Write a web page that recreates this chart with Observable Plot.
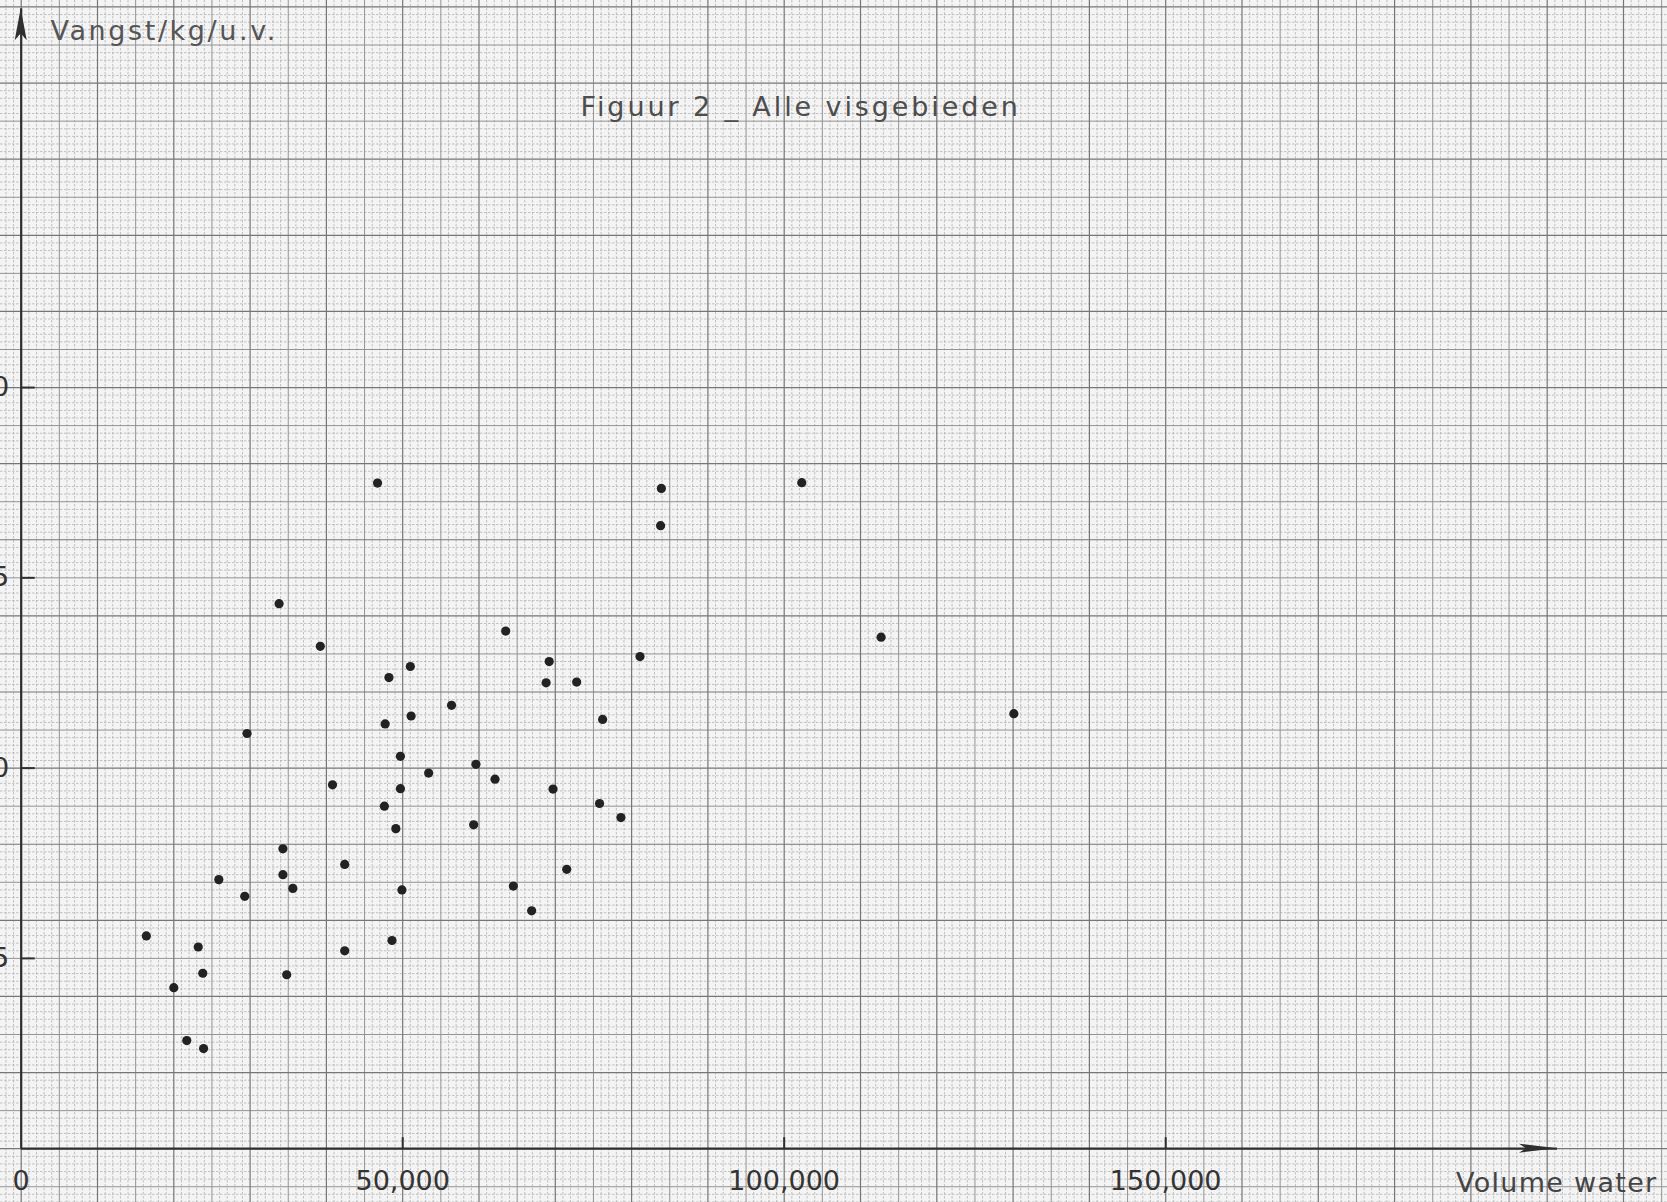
<!DOCTYPE html>
<html>
<head>
<meta charset="utf-8">
<script src="https://cdn.jsdelivr.net/npm/d3@7"></script>
<script src="https://cdn.jsdelivr.net/npm/@observablehq/plot@0.6"></script>
<style>
  html, body { margin: 0; padding: 0; background: #f4f4f4; }
  #chart svg { display: block; }
</style>
</head>
<body>
<div id="chart"></div>
<script>
// ---- data ----
const volume = [16400, 20000, 21700, 23900, 23200, 23800, 25900, 29300, 29600, 33800,
  34300, 34300, 34800, 35600, 39200, 40800, 42400, 42400, 46700, 47600,
  47700, 48200, 48600, 49100, 49700, 49700, 49900, 51000, 51100, 53400,
  56400, 59300, 59600, 62100, 63500, 64500, 66900, 68800, 69200, 69700,
  71500, 72800, 75800, 76200, 78600, 81100, 83900, 83800, 102300, 112700, 130100];
const vangst = [5.59, 4.23, 2.84, 2.63, 5.30, 4.61, 7.07, 6.63, 10.91, 14.32,
  7.88, 7.20, 4.57, 6.84, 13.20, 9.56, 7.47, 5.20, 17.49, 9.00,
  11.16, 12.38, 5.47, 8.41, 10.31, 9.46, 6.80, 12.67, 11.37, 9.87,
  11.65, 8.51, 10.10, 9.71, 13.60, 6.90, 6.25, 12.24, 12.80, 9.45,
  7.34, 12.26, 9.07, 11.28, 8.70, 12.93, 17.35, 16.37, 17.50, 13.44, 11.43];

const xTickValues = [0, 50000, 100000, 150000];
const xTickLabels = ["0", "50,000", "100,000", "150,000"];
const yTickValues = [5, 10, 15, 20];
const yTickLabels = ["5", "10", "15", "20"];

const titleText = "Figuur 2 _ Alle visgebieden";
const yAxisLabel = "Vangst/kg/u.v.";
const xAxisLabel = "Volume water";

// axis extents (data units) and the visible domain of the graph paper
const xDomain = [-2713, 215767];
const yDomain = [-1.414, 30.17];
const xAxisEnd = 201350;
const yAxisEnd = 29.95;

const points = volume.map((v, i) => ({volume: v, vangst: vangst[i]}));

// millimetre paper: 1 mm = 1000 in x, 0.2 in y
const xi = d3.range(-2, 216);
const yi = d3.range(-7, 151);
const gxLight = xi.filter(i => i % 5 !== 0).map(i => i * 1000);
const gxMed = xi.filter(i => i % 5 === 0 && i % 10 !== 0).map(i => i * 1000);
const gxHeavy = xi.filter(i => i % 10 === 0).map(i => i * 1000);
const gyLight = yi.filter(i => i % 5 !== 0).map(i => i * 0.2);
const gyMed = yi.filter(i => i % 5 === 0 && i % 10 !== 0).map(i => i * 0.2);
const gyHeavy = yi.filter(i => i % 10 === 0).map(i => i * 0.2);

const W = 1667, H = 1202;
const pxPerX = W / (xDomain[1] - xDomain[0]);
const pxPerY = H / (yDomain[1] - yDomain[0]);

const font = "'DejaVu Sans', 'Open Sans', sans-serif";
const ink = "#2e2e2e";

function arrowheads(index, scales) {
  const g = d3.create("svg:g").attr("fill", ink);
  const x0 = scales.x(0), y0 = scales.y(0);
  const xe = scales.x(xAxisEnd), yt = scales.y(yAxisEnd);
  g.append("path").attr("d", `M${xe},${y0} L${xe - 38},${y0 - 4.5} L${xe - 31},${y0} L${xe - 38},${y0 + 4.5}Z`);
  g.append("path").attr("d", `M${x0},${yt} L${x0 - 6},${yt + 32} L${x0},${yt + 25} L${x0 + 6},${yt + 32}Z`);
  return g.node();
}

const chart = Plot.plot({
  width: W,
  height: H,
  margin: 0,
  style: {background: "#f4f4f4", fontFamily: font},
  x: {domain: xDomain, axis: null},
  y: {domain: yDomain, axis: null},
  marks: [
    // graph paper
    Plot.ruleX(gxLight, {stroke: "#ababab", strokeWidth: 1, strokeDasharray: "2.5,1.5", strokeOpacity: 0.7}),
    Plot.ruleY(gyLight, {stroke: "#ababab", strokeWidth: 1, strokeDasharray: "2.5,1.5", strokeOpacity: 0.7}),
    Plot.ruleX(gxMed, {stroke: "#939393", strokeWidth: 1}),
    Plot.ruleY(gyMed, {stroke: "#939393", strokeWidth: 1}),
    Plot.ruleX(gxHeavy, {stroke: "#767676", strokeWidth: 1.2}),
    Plot.ruleY(gyHeavy, {stroke: "#767676", strokeWidth: 1.2}),
    // axes
    Plot.ruleY([0], {x1: 0, x2: xAxisEnd, stroke: ink, strokeWidth: 2.2}),
    Plot.ruleX([0], {y1: 0, y2: yAxisEnd, stroke: ink, strokeWidth: 2.2}),
    arrowheads,
    Plot.ruleX(xTickValues.slice(1), {y1: 0, y2: 11 / pxPerY, stroke: ink, strokeWidth: 2}),
    Plot.ruleY(yTickValues, {x1: 0, x2: 14 / pxPerX, stroke: ink, strokeWidth: 2}),
    Plot.text(xTickValues, {x: d => d, y: 0, text: (d, i) => xTickLabels[i], dy: 33,
      fontSize: 27, fill: "#333"}),
    Plot.text(yTickValues, {x: 0, y: d => d, text: (d, i) => yTickLabels[i], dx: -12,
      textAnchor: "end", fontSize: 27, fill: "#333"}),
    // labels
    Plot.text([yAxisLabel], {frameAnchor: "top-left", dx: 50, dy: 20, textAnchor: "start",
      fontSize: 27, fill: "#555"}),
    Plot.text([titleText], {frameAnchor: "top-left", dx: 580, dy: 96, textAnchor: "start",
      fontSize: 27, fill: "#4d4d4d"}),
    Plot.text([xAxisLabel], {frameAnchor: "bottom-right", dx: -10, dy: -11, textAnchor: "end",
      fontSize: 27, fill: "#444"}),
    // data
    Plot.dot(points, {x: "volume", y: "vangst", r: 4.6, fill: "#222", stroke: "none"})
  ]
});

// hand-lettered look: widen the spacing of the label texts
const spacing = new Map([[titleText, "2.9px"], [yAxisLabel, "2.6px"], [xAxisLabel, "1.3px"]]);
d3.select(chart).selectAll("text").each(function () {
  const s = spacing.get(this.textContent);
  if (s) this.style.letterSpacing = s;
});
document.getElementById("chart").append(chart);
</script>
</body>
</html>
